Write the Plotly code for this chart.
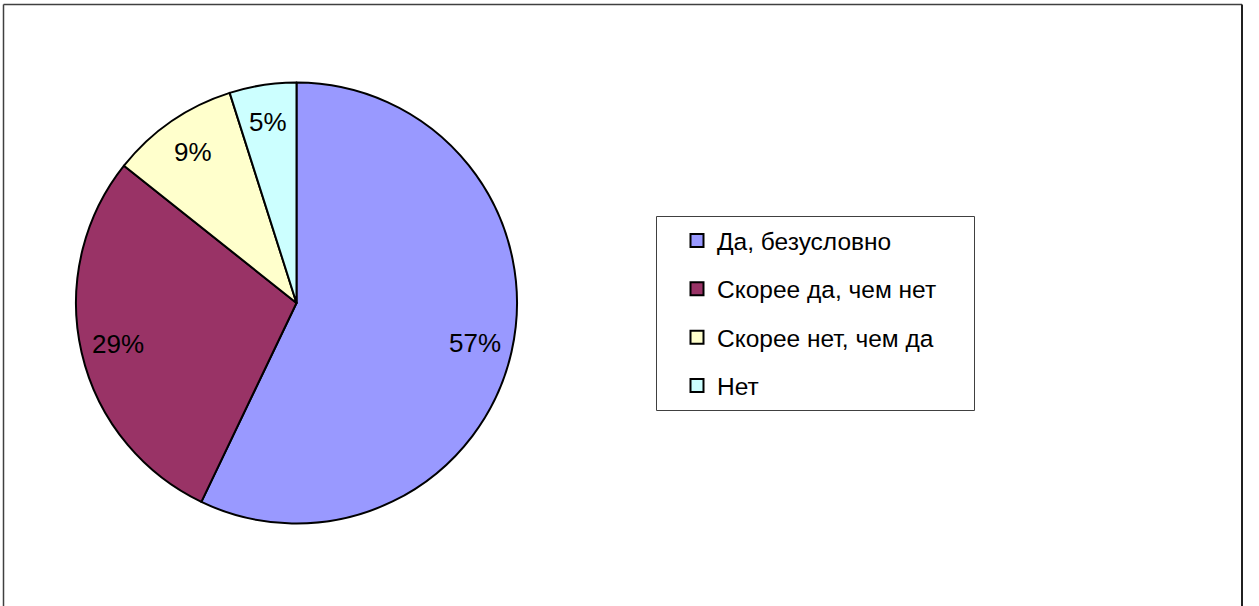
import math
import plotly.graph_objects as go

labels = ["Да, безусловно", "Скорее да, чем нет", "Скорее нет, чем да", "Нет"]
values = [57.1, 28.6, 9.4, 4.9]
colors = ["#9999FF", "#993366", "#FFFFCC", "#CCFFFF"]

W, H = 1259, 606

def px(x):
    return x / W

def py(y):
    return 1 - y / H

# pie geometry (pixels)
CX, CY, R = 296.5, 303.0, 220.5
LABEL_R = 0.83

fig = go.Figure()
fig.add_trace(go.Pie(
    labels=labels, values=values, sort=False, direction="clockwise", rotation=0,
    marker=dict(colors=colors, line=dict(color="black", width=2)),
    textinfo="none",
    domain=dict(x=[px(CX - R), px(CX + R)], y=[py(CY + R), py(CY - R)]),
    showlegend=False, hoverinfo="label+percent",
))

# percent labels placed along each slice's bisector, derived from the values
total = sum(values)
cum = 0.0
for v in values:
    mid = (cum + v / 2) / total * 2 * math.pi
    cum += v
    lx = CX + LABEL_R * R * math.sin(mid)
    ly = CY - LABEL_R * R * math.cos(mid)
    fig.add_annotation(
        x=px(lx), y=py(ly), xref="paper", yref="paper",
        text=f"{round(v / total * 100)}%", showarrow=False,
        xanchor="center", yanchor="middle",
        font=dict(family="Liberation Sans, Arial", size=26, color="black"),
    )

# legend entries (one group per category for spacing)
for i, (lab, col) in enumerate(zip(labels, colors)):
    fig.add_trace(go.Scatter(
        x=[None], y=[None], mode="markers", name=lab, legendgroup=f"g{i}",
        marker=dict(symbol="square", size=13, color=col, line=dict(color="black", width=2)),
    ))

fig.update_layout(
    width=W, height=H,
    margin=dict(l=0, r=0, t=0, b=0),
    paper_bgcolor="white", plot_bgcolor="white",
    xaxis=dict(visible=False), yaxis=dict(visible=False),
    font=dict(family="Liberation Sans, Arial", size=24.5, color="black"),
    legend=dict(
        x=px(677), y=py(218), xanchor="left", yanchor="top",
        bgcolor="rgba(0,0,0,0)", borderwidth=0,
        tracegroupgap=13.5, traceorder="grouped",
        font=dict(family="Liberation Sans, Arial", size=24.5, color="black"),
    ),
    shapes=[
        dict(type="line", xref="paper", yref="paper",
             x0=px(3.5), x1=px(3.5), y0=-0.05, y1=py(4.5),
             line=dict(color="#404040", width=1.5), layer="above"),
        dict(type="line", xref="paper", yref="paper",
             x0=px(3.5), x1=px(1242), y0=py(4.5), y1=py(4.5),
             line=dict(color="#404040", width=1.5), layer="above"),
        dict(type="line", xref="paper", yref="paper",
             x0=px(1242), x1=px(1242), y0=-0.05, y1=py(4.5),
             line=dict(color="#202020", width=2), layer="above"),
        dict(type="rect", xref="paper", yref="paper",
             x0=px(656.5), x1=px(974.5), y0=py(410.5), y1=py(216.5),
             line=dict(color="#404040", width=1), fillcolor="rgba(0,0,0,0)", layer="above"),
    ],
)

fig.write_html("out.html", config={"displayModeBar": False},
               post_script="document.body.style.margin='0';document.body.style.overflow='hidden';")
